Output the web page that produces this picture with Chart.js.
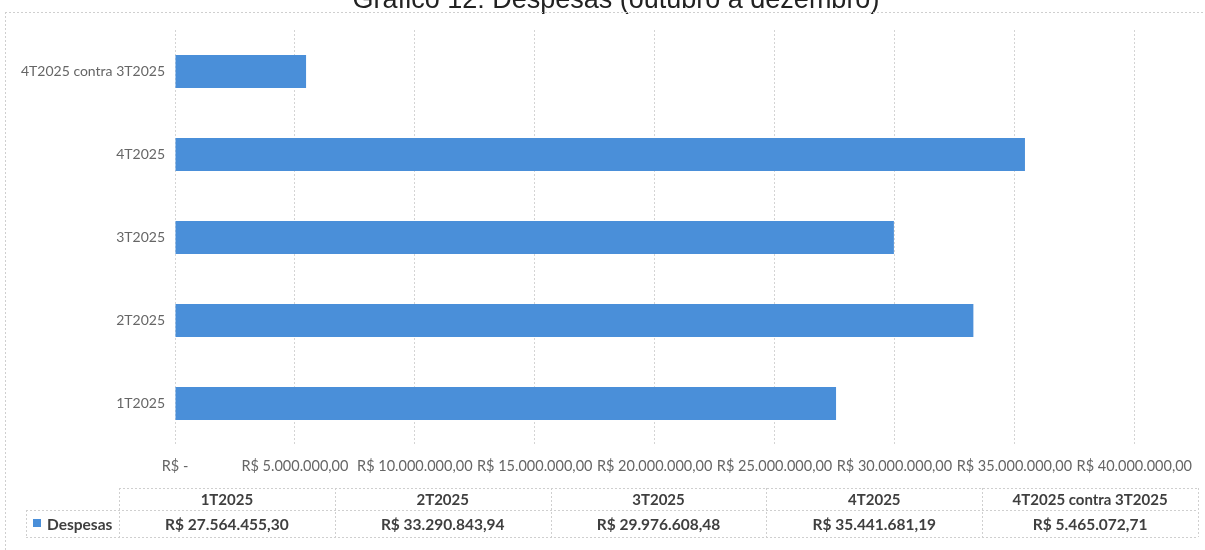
<!DOCTYPE html>
<html>
<head>
<meta charset="utf-8">
<script src="https://cdn.jsdelivr.net/npm/chart.js@4"></script>
<style>
  body { margin: 0; background: #fff; }
  canvas { display: block; }
</style>
</head>
<body>
<canvas id="despChart" width="1205" height="550"></canvas>
<script>
  // dados do grafico
  const categorias = ['1T2025', '2T2025', '3T2025', '4T2025', '4T2025 contra 3T2025'];
  const despesas   = [27564455.30, 33290843.94, 29976608.48, 35441681.19, 5465072.71];
  const serieNome  = 'Despesas';
  const tituloTxt  = 'Gráfico 12: Despesas (outubro a dezembro)';
  const eixoMax    = 40000000;
  const eixoPasso  = 5000000;

  const azul  = '#4a8fd9';
  const cinza = '#666666';
  const texto = '#3f3f3f';
  const linha = '#cfcfcf';

  // formata no padrao R$ 1.234,56
  function formatBRL(v)
  {
      if (v === 0) return 'R$ -';
      let partes = v.toFixed(2).split('.');
      let inteiro = partes[0].replace(/\B(?=(\d{3})+(?!\d))/g, '.');
      return 'R$ ' + inteiro + ',' + partes[1];
  }

  function dottedLine(ctx, x1, y1, x2, y2)
  {
      ctx.beginPath();
      ctx.moveTo(x1, y1);
      ctx.lineTo(x2, y2);
      ctx.stroke();
  }

  /**======================================================================================
   *          plugin: titulo cortado, moldura e tabela de dados abaixo do grafico
   ======================================================================================*/
  const extras = {
      id: 'extras',
      beforeDraw(chart) {
          const ctx = chart.ctx;
          ctx.save();
          ctx.fillStyle = '#fff';
          ctx.fillRect(0, 0, chart.width, chart.height);
          ctx.restore();
      },
      afterDraw(chart) {
          const ctx = chart.ctx;
          ctx.save();

          // titulo (so a parte de baixo aparece)
          ctx.fillStyle = '#222';
          ctx.font = '27px "Liberation Sans", Arial, sans-serif';
          ctx.textAlign = 'center';
          ctx.textBaseline = 'alphabetic';
          ctx.fillText(tituloTxt, 616, 8);

          // moldura pontilhada
          ctx.strokeStyle = linha;
          ctx.lineWidth = 1;
          ctx.setLineDash([2, 2]);
          dottedLine(ctx, 5, 12.5, 1205, 12.5);
          dottedLine(ctx, 5.5, 12, 5.5, 550);

          // tabela
          const left = 119, right = 1198, legLeft = 26;
          const yTop = 488, yMid = 510, yBot = 537;
          const colW = (right - left) / categorias.length;

          dottedLine(ctx, left, yTop + 0.5, right, yTop + 0.5);
          dottedLine(ctx, legLeft, yMid + 0.5, right, yMid + 0.5);
          dottedLine(ctx, legLeft, yBot + 0.5, right, yBot + 0.5);
          dottedLine(ctx, legLeft + 0.5, yMid, legLeft + 0.5, yBot);
          for (let i = 0; i <= categorias.length; i++) {
              let x = Math.round(left + i * colW) + 0.5;
              dottedLine(ctx, x, yTop, x, yBot);
          }
          ctx.setLineDash([]);

          ctx.fillStyle = texto;
          ctx.textAlign = 'center';
          ctx.textBaseline = 'middle';
          for (let i = 0; i < categorias.length; i++) {
              let cx = left + (i + 0.5) * colW;
              ctx.font = 'bold 15px Lato, sans-serif';
              ctx.fillText(categorias[i], cx, (yTop + yMid) / 2 + 1);
              ctx.font = 'bold 15.5px Lato, sans-serif';
              ctx.fillText(formatBRL(despesas[i]), cx, (yMid + yBot) / 2 + 1);
          }

          // chave da legenda
          ctx.fillStyle = azul;
          ctx.fillRect(33, 519, 8, 8);
          ctx.fillStyle = texto;
          ctx.textAlign = 'left';
          ctx.font = 'bold 15.5px Lato, sans-serif';
          ctx.fillText(serieNome, 47, (yMid + yBot) / 2 + 1);

          ctx.restore();
      }
  };

  const despChart = new Chart(document.getElementById('despChart'), {
      type: 'bar',
      data: {
          labels: categorias,
          datasets: [
            {
              label: serieNome,
              data: despesas,
              backgroundColor: azul,
              borderWidth: 0,
              categoryPercentage: 1.0,
              barPercentage: 0.4
            }
          ]
      },
      options: {
          indexAxis: 'y',
          responsive: false,
          animation: false,
          layout: {
              padding: { left: 0, right: 70, top: 30, bottom: 0 }
          },
          plugins: {
              legend: { display: false },
              title: { display: false },
              tooltip: { enabled: false }
          },
          scales: {
              x: {
                  min: 0,
                  max: eixoMax,
                  afterFit(scale) { scale.height = 105; },
                  ticks: {
                      stepSize: eixoPasso,
                      padding: 13,
                      maxRotation: 0,
                      autoSkip: false,
                      color: cinza,
                      font: { family: 'Lato', size: 14.5 },
                      callback: (v) => formatBRL(v)
                  },
                  grid: { color: '#d4d4d4', drawTicks: false },
                  border: { display: false, dash: [2, 2] }
              },
              y: {
                  reverse: true,
                  afterFit(scale) { scale.width = 175; },
                  ticks: {
                      padding: 10,
                      color: cinza,
                      font: { family: 'Lato', size: 14 }
                  },
                  grid: { display: false, drawTicks: false },
                  border: { display: false }
              }
          }
      },
      plugins: [extras]
  });
</script>
</body>
</html>
